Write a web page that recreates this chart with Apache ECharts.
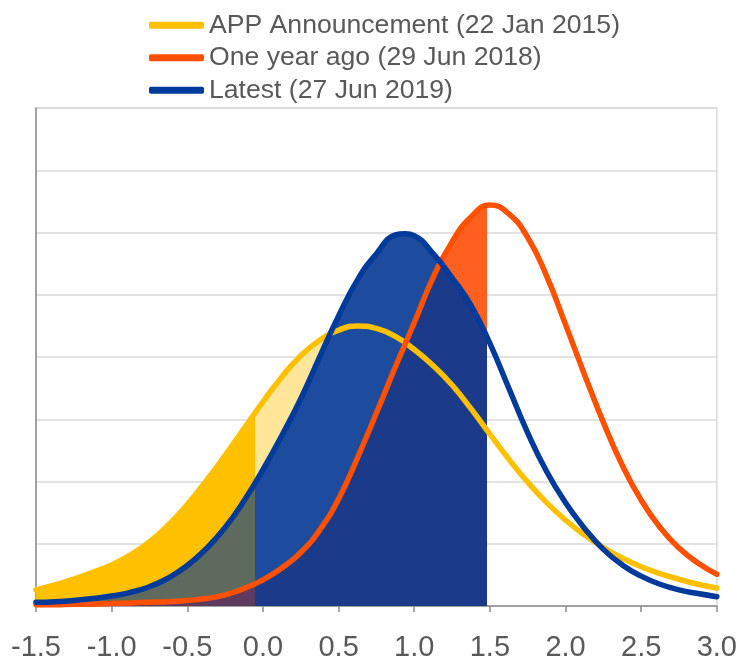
<!DOCTYPE html>
<html>
<head>
<meta charset="utf-8">
<script src="https://cdn.jsdelivr.net/npm/echarts@6/dist/echarts.min.js"></script>
<style>
html,body{margin:0;padding:0;background:#fff;}
#chart{width:740px;height:662px;}
</style>
</head>
<body>
<div id="chart"></div>
<script>
// x positions (percentage points) at which the curves were read
var xs = [-1.5, -1.375, -1.25, -1.125, -1.0, -0.875, -0.75, -0.625, -0.5, -0.375, -0.25, -0.125,
          0.0, 0.125, 0.25, 0.375, 0.5, 0.625, 0.75, 0.875, 1.0, 1.125, 1.25, 1.375,
          1.5, 1.625, 1.75, 1.875, 2.0, 2.125, 2.25, 2.375, 2.5, 2.625, 2.75, 2.875, 3.0];
// density values (grid units)
var appAnnouncement = [0.26, 0.34, 0.43, 0.54, 0.66, 0.82, 1.03, 1.30, 1.63, 2.01, 2.42, 2.85,
                       3.28, 3.68, 4.02, 4.27, 4.43, 4.50, 4.46, 4.33, 4.12, 3.86, 3.55, 3.17,
                       2.76, 2.36, 1.99, 1.66, 1.38, 1.14, 0.94, 0.77, 0.63, 0.52, 0.43, 0.35, 0.29];
var oneYearAgo      = [0.02, 0.02, 0.03, 0.03, 0.04, 0.05, 0.06, 0.07, 0.09, 0.12, 0.18, 0.28,
                       0.42, 0.61, 0.86, 1.22, 1.72, 2.38, 3.10, 3.84, 4.55, 5.28, 5.85, 6.25,
                       6.44, 6.30, 5.92, 5.30, 4.52, 3.72, 2.95, 2.26, 1.70, 1.26, 0.93, 0.69, 0.51];
var latest          = [0.06, 0.07, 0.09, 0.12, 0.16, 0.22, 0.31, 0.45, 0.65, 0.92, 1.26, 1.69,
                       2.19, 2.74, 3.33, 4.00, 4.66, 5.24, 5.66, 5.96, 5.95, 5.66, 5.27, 4.83,
                       4.22, 3.50, 2.78, 2.16, 1.66, 1.25, 0.91, 0.66, 0.48, 0.35, 0.26, 0.20, 0.15];
// top of the "Latest" curve [x, y]
var latestPeak = [0.94, 5.98];
// point where the "Latest" and "One year ago" curves cross [x, y]
var crossing = [1.175, 5.52];
var seriesNames = ['APP Announcement (22 Jan 2015)', 'One year ago (29 Jun 2018)', 'Latest (27 Jun 2019)'];
// shaded band limits (x values)
var shadeFrom = -0.05;
var shadeTo = 1.48;

function pairs(ys, extra) {
  var pts = xs.map(function (x, i) { return [x, ys[i]]; });
  if (extra) { pts.push(extra.slice()); pts.sort(function (a, b) { return a[0] - b[0]; }); }
  return pts;
}
var appPts = pairs(appAnnouncement);
var oneYearPts = pairs(oneYearAgo);
var latestPts = pairs(latest, latestPeak);
// area under both curves: "One year ago" left of the crossing, "Latest" right of it
var overlapPts = oneYearPts.filter(function (p) { return p[0] < crossing[0]; })
  .concat([crossing.slice()])
  .concat(latestPts.filter(function (p) { return p[0] > crossing[0]; }));

var FONT = '"Liberation Sans", Arial, sans-serif';
var TRANSP = 'rgba(0,0,0,0)';
var SMOOTH = 0.5;

function areaSeries(name, data, smooth) {
  return {
    name: name, type: 'line', data: data, smooth: smooth, showSymbol: false, silent: true,
    lineStyle: { width: 0 }, areaStyle: { opacity: 1 }
  };
}
function lineSeries(name, data, color) {
  return {
    name: name, type: 'line', data: data, smooth: SMOOTH, showSymbol: false,
    itemStyle: { color: color },
    lineStyle: { width: 5.5, color: color, cap: 'round' }
  };
}
function vm(idx, left, mid) {
  return {
    type: 'piecewise', show: false, dimension: 0, seriesIndex: idx,
    pieces: [
      { lt: shadeFrom, color: left },
      { gte: shadeFrom, lt: shadeTo, color: mid },
      { gte: shadeTo, color: TRANSP }
    ]
  };
}

var chart = echarts.init(document.getElementById('chart'), null, { renderer: 'canvas' });
chart.setOption({
  animation: false,
  backgroundColor: '#ffffff',
  legend: {
    data: seriesNames.map(function (n) { return { name: n, icon: 'roundRect' }; }),
    orient: 'vertical', left: 149, top: 9, itemGap: 0, padding: 0,
    itemWidth: 55, itemHeight: 7,
    textStyle: { fontFamily: FONT, fontSize: 26.6, color: '#595959', lineHeight: 32.5 }
  },
  grid: { left: 36, right: 21, top: 108, bottom: 50, show: true, borderColor: '#D9D9D9', borderWidth: 1.5 },
  xAxis: {
    type: 'value', min: -1.5, max: 3.0, interval: 0.5,
    axisLine: { show: true, onZero: false, lineStyle: { color: '#8C8C8C', width: 1.5 } },
    axisTick: { show: true, length: 6, lineStyle: { color: '#8C8C8C', width: 1.5 } },
    splitLine: { show: false },
    axisLabel: {
      margin: 27, fontFamily: FONT, fontSize: 29, color: '#595959',
      formatter: function (v) { return v.toFixed(1); }
    }
  },
  yAxis: {
    type: 'value', min: 0, max: 8, interval: 1,
    axisLine: { show: true, onZero: false, lineStyle: { color: '#8C8C8C', width: 1.5 } },
    axisTick: { show: false }, axisLabel: { show: false },
    splitLine: { show: true, lineStyle: { color: '#D9D9D9', width: 1.5 } }
  },
  visualMap: [
    vm(0, '#FFC000', '#FFE699'),
    vm(1, '#5F6A5E', '#1D4C9E'),
    vm(2, '#5E3B5E', '#FF5F1F'),
    vm(3, '#5E3B5E', '#1B3A8A')
  ],
  series: [
    areaSeries('area-app', appPts, SMOOTH),
    areaSeries('area-latest', latestPts, SMOOTH),
    areaSeries('area-oneyear', oneYearPts, SMOOTH),
    areaSeries('area-overlap', overlapPts, false),
    lineSeries(seriesNames[0], appPts, '#FFC000'),
    lineSeries(seriesNames[1], oneYearPts, '#FF5000'),
    lineSeries(seriesNames[2], latestPts, '#003A9A')
  ]
});
</script>
</body>
</html>
